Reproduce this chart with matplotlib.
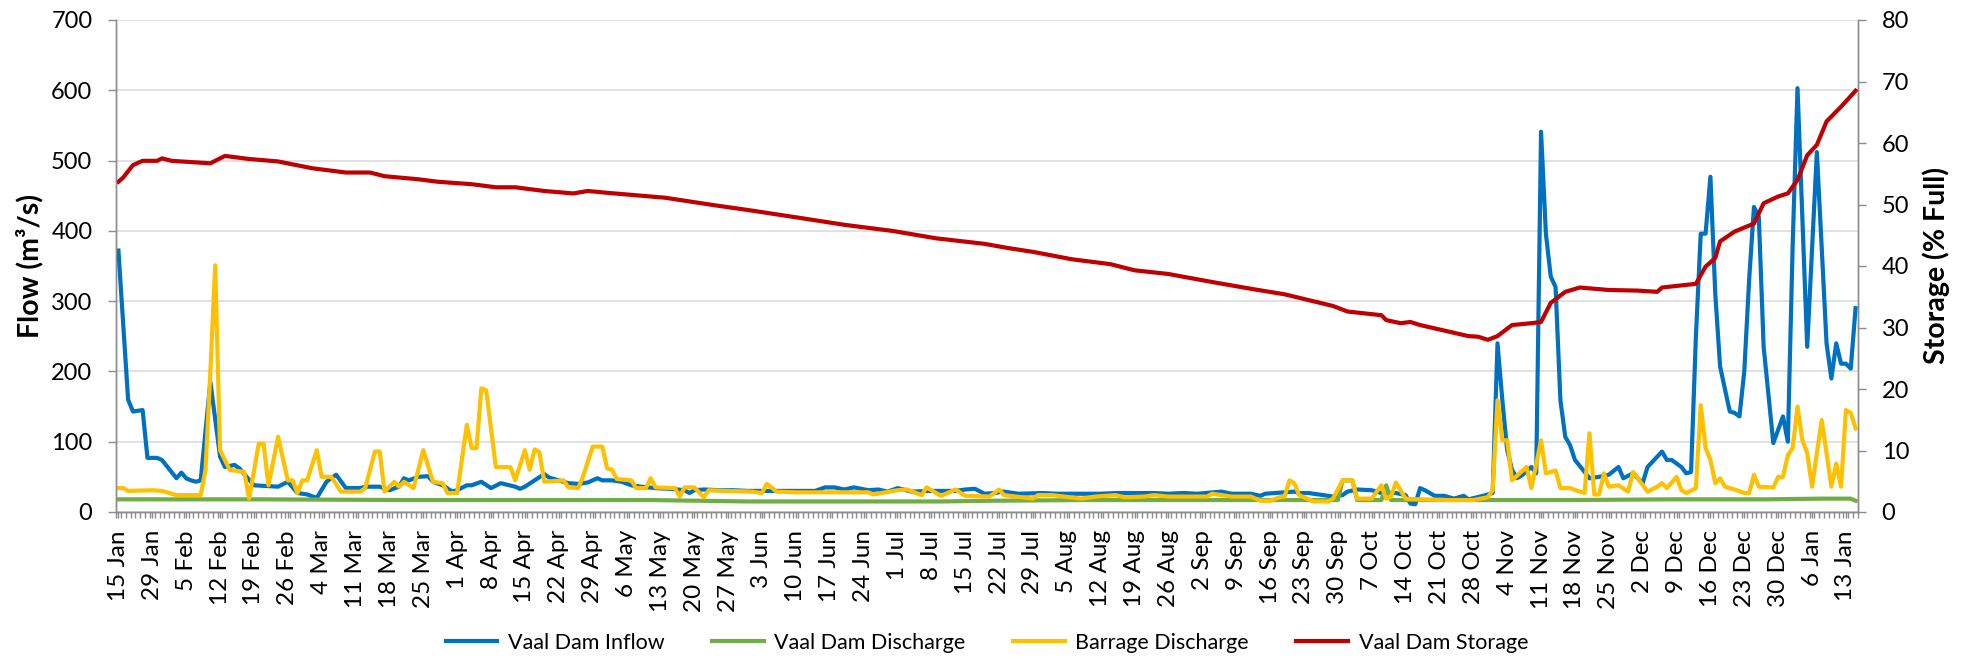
import matplotlib
matplotlib.use("Agg")
import matplotlib.pyplot as plt
from matplotlib.ticker import FixedLocator
from matplotlib.lines import Line2D

plt.rcParams["font.family"] = ["Lato", "DejaVu Sans"]

# ---- data (category index = day position on the axis, 360 days) ----
n_days = 360
date_labels = [
    "15 Jan", "29 Jan", "5 Feb", "12 Feb", "19 Feb", "26 Feb", "4 Mar", "11 Mar",
    "18 Mar", "25 Mar", "1 Apr", "8 Apr", "15 Apr", "22 Apr", "29 Apr", "6 May",
    "13 May", "20 May", "27 May", "3 Jun", "10 Jun", "17 Jun", "24 Jun", "1 Jul",
    "8 Jul", "15 Jul", "22 Jul", "29 Jul", "5 Aug", "12 Aug", "19 Aug", "26 Aug",
    "2 Sep", "9 Sep", "16 Sep", "23 Sep", "30 Sep", "7 Oct", "14 Oct", "21 Oct",
    "28 Oct", "4 Nov", "11 Nov", "18 Nov", "25 Nov", "2 Dec", "9 Dec", "16 Dec",
    "23 Dec", "30 Dec", "6 Jan", "13 Jan",
]
label_pos = [7 * k for k in range(len(date_labels))]

inflow_day = [
    0, 2, 3, 5, 6, 8, 9, 12, 13, 14, 15, 16, 17, 19, 21, 22, 24, 25, 28, 33,
    35, 37, 39, 41, 43, 45, 47, 50, 51, 54, 56, 58, 59, 60, 62, 64, 65, 67, 69, 70,
    72, 73, 75, 77, 79, 82, 83, 84, 86, 88, 89, 91, 93, 95, 97, 99, 100, 102, 104, 106,
    108, 111, 114, 117, 118, 119, 121, 124, 127, 130, 135, 140, 144, 146, 148, 150, 152, 155, 157, 159,
    161, 164, 168, 170, 173, 175, 177, 179, 181, 183, 186, 191, 194, 197, 203, 206, 214, 217, 220, 223,
    228, 230, 234, 236, 237, 243, 244, 246, 251, 253, 254, 256, 259, 261, 264, 266, 267, 268, 269, 270,
    272, 274, 276, 278, 279, 282, 284, 285, 286, 287, 288, 289, 290, 292, 293, 294, 295, 296, 297, 298,
    299, 300, 301, 303, 304, 306, 308, 310, 311, 313, 315, 316, 319, 320, 321, 323, 324, 325, 326, 327,
    328, 329, 330, 331, 333, 334, 335, 336, 337, 338, 339, 340, 342, 344, 345, 346, 347, 349, 351, 353,
    354, 355, 356, 357, 358, 359,
]
inflow = [
    372, 160, 143, 145, 77, 77, 74, 48, 56, 48, 45, 43, 45, 185, 79, 64, 67, 62, 38, 36,
    43, 27, 25, 20, 43, 53, 34, 34, 36, 36, 31, 36, 48, 45, 50, 51, 43, 38, 29, 31,
    38, 38, 43, 34, 41, 36, 33, 36, 45, 54, 49, 45, 41, 40, 42, 48, 45, 45, 43, 38,
    36, 34, 33, 31, 27, 31, 32, 31, 31, 30, 30, 30, 30, 35, 35, 32, 35, 31, 32, 29,
    34, 29, 30, 30, 30, 32, 33, 26, 27, 29, 26, 27, 26, 26, 26, 27, 27, 26, 27, 26,
    29, 26, 26, 23, 26, 29, 27, 27, 22, 24, 29, 32, 31, 27, 27, 24, 12, 11, 34, 31,
    23, 23, 19, 23, 18, 23, 27, 240, 159, 88, 60, 48, 52, 64, 55, 541, 396, 335, 320, 159,
    107, 95, 74, 57, 48, 50, 53, 64, 48, 55, 41, 64, 86, 74, 74, 64, 55, 57, 250, 396,
    396, 477, 311, 207, 143, 141, 136, 200, 330, 434, 420, 235, 98, 136, 100, 380, 603, 235, 512, 240,
    190, 240, 211, 211, 204, 290,
]

barrage_day = [
    0, 1, 2, 7, 9, 12, 17, 18, 19, 20, 21, 23, 26, 27, 29, 30, 31, 33, 35, 36,
    37, 38, 39, 41, 42, 44, 46, 50, 51, 53, 54, 55, 57, 58, 59, 61, 63, 65, 67, 68,
    70, 72, 73, 74, 75, 76, 78, 81, 82, 84, 85, 86, 87, 88, 92, 93, 95, 96, 98, 100,
    101, 102, 103, 106, 107, 109, 110, 111, 115, 116, 117, 119, 121, 122, 126, 131, 133, 134, 136, 140,
    155, 156, 161, 163, 166, 167, 170, 172, 173, 175, 180, 182, 183, 189, 190, 193, 199, 202, 206, 208,
    212, 214, 217, 221, 225, 226, 228, 230, 234, 236, 238, 240, 241, 242, 243, 244, 247, 250, 251, 253,
    255, 256, 259, 261, 262, 263, 264, 266, 269, 275, 280, 283, 284, 285, 286, 287, 288, 291, 292, 294,
    295, 297, 298, 300, 302, 303, 304, 305, 306, 307, 308, 310, 312, 313, 314, 316, 318, 319, 320, 322,
    323, 324, 326, 327, 328, 329, 330, 331, 332, 334, 336, 337, 338, 339, 342, 343, 344, 345, 346, 347,
    348, 349, 350, 352, 354, 355, 356, 357, 358, 359,
]
barrage = [
    34, 34, 30, 31, 30, 24, 24, 60, 200, 351, 88, 60, 57, 19, 97, 97, 38, 107, 45, 45,
    27, 45, 45, 88, 50, 50, 29, 29, 34, 86, 86, 29, 43, 36, 43, 34, 88, 43, 41, 27,
    27, 124, 91, 91, 176, 173, 64, 64, 45, 88, 60, 89, 85, 43, 45, 35, 34, 50, 93, 93,
    62, 60, 47, 45, 34, 34, 48, 35, 34, 22, 35, 35, 21, 31, 30, 29, 27, 40, 29, 28,
    28, 25, 31, 32, 24, 35, 23, 29, 32, 23, 22, 32, 24, 19, 24, 24, 19, 22, 24, 21,
    22, 24, 22, 22, 22, 26, 24, 22, 22, 16, 16, 21, 22, 45, 41, 24, 15, 15, 19, 45,
    45, 19, 19, 38, 19, 22, 42, 19, 18, 17, 17, 21, 31, 159, 102, 102, 45, 64, 34, 102,
    55, 59, 34, 34, 29, 27, 112, 25, 25, 55, 36, 38, 29, 57, 48, 29, 36, 41, 34, 50,
    31, 27, 34, 152, 91, 74, 41, 48, 36, 32, 27, 27, 53, 36, 35, 50, 50, 81, 91, 150,
    102, 84, 36, 131, 36, 69, 36, 145, 141, 119,
]

discharge_day = [0, 30, 60, 90, 110, 130, 150, 170, 180, 200, 230, 240, 252, 253, 255, 256,
                 261, 262, 263, 280, 300, 320, 340, 352, 358, 359]
discharge = [18, 18, 17, 17, 17, 15, 15, 15, 16, 17, 17, 17, 17, 45, 45, 17,
             17, 38, 17, 17, 17, 18, 18, 19, 19, 16]

storage_day = [
    0, 1, 3, 5, 8, 9, 11, 15, 19, 22, 27, 33, 40, 47, 52, 55, 62, 66, 73, 78,
    82, 88, 94, 97, 101, 113, 123, 131, 141, 150, 160, 169, 179, 184, 189, 197, 205, 210, 217, 226,
    234, 241, 251, 254, 261, 262, 265, 267, 269, 274, 279, 281, 283, 285, 288, 292, 294, 296, 299, 302,
    308, 314, 318, 319, 326, 328, 330, 331, 334, 338, 340, 343, 345, 347, 349, 351, 353, 356, 359,
]
storage = [
    53.7, 54.4, 56.4, 57.1, 57.1, 57.5, 57.1, 56.9, 56.7, 57.9, 57.4, 57.0, 55.9, 55.2, 55.2, 54.6, 54.1, 53.7, 53.3, 52.8,
    52.8, 52.2, 51.8, 52.2, 51.9, 51.1, 49.9, 49.0, 47.8, 46.7, 45.7, 44.5, 43.6, 42.9, 42.3, 41.1, 40.3, 39.3, 38.7, 37.4,
    36.3, 35.4, 33.5, 32.6, 32.0, 31.2, 30.7, 30.9, 30.4, 29.5, 28.6, 28.5, 28.0, 28.6, 30.4, 30.7, 30.9, 34.0, 35.8, 36.5,
    36.1, 36.0, 35.8, 36.5, 37.1, 39.9, 41.3, 44.0, 45.6, 46.9, 50.2, 51.3, 51.8, 54.0, 58.0, 59.7, 63.5, 65.9, 68.5,
]

# ---- figure ----
W, H = 1970, 657
fig = plt.figure(figsize=(W / 100, H / 100), dpi=100)
ax = fig.add_axes([116 / W, 1 - 512 / H, 1742 / W, 492 / H])
ax2 = ax.twinx()

c_in, c_dis, c_bar, c_sto = "#0070C0", "#70AD47", "#FFC000", "#C00000"
lw = 3.0
grey = "#8C8C8C"

ax.plot(inflow_day, inflow, color=c_in, lw=lw, solid_joinstyle="round", zorder=3)
ax.plot(discharge_day, discharge, color=c_dis, lw=lw, solid_joinstyle="round", zorder=3)
ax.plot(barrage_day, barrage, color=c_bar, lw=lw, solid_joinstyle="round", zorder=3)
ax2.plot(storage_day, storage, color=c_sto, lw=lw, solid_joinstyle="round")

ax.set_xlim(-0.5, n_days - 0.5)
ax.set_ylim(0, 700)
ax2.set_ylim(0, 80)
ax.set_yticks(range(0, 701, 100))
ax2.set_yticks(range(0, 81, 10))

ax.grid(axis="y", color="#D9D9D9", lw=1.1, zorder=0)
ax.set_axisbelow(True)

for a in (ax, ax2):
    a.spines["top"].set_visible(False)
    for s in ("left", "right", "bottom"):
        a.spines[s].set_color(grey)
        a.spines[s].set_linewidth(1.0)

ax.set_xticks(label_pos)
ax.set_xticklabels(date_labels, rotation=90, va="top", ha="center")
ax.xaxis.set_minor_locator(FixedLocator([i - 0.5 for i in range(n_days + 1)]))
ax.tick_params(axis="x", which="both", length=4, color=grey, width=1.0,
               labelsize=17.5, pad=9)
ax.tick_params(axis="y", length=6, color=grey, width=1.0, labelsize=17, pad=11)
ax2.tick_params(axis="y", length=6, color=grey, width=1.0, labelsize=17, pad=11)

fig.text(30 / W, 1 - 266 / H, "Flow (m³/s)", rotation=90, ha="center", va="center",
         fontsize=20.5, fontweight="bold")
fig.text(1936 / W, 1 - 266 / H, "Storage (% Full)", rotation=90, ha="center", va="center",
         fontsize=20.5, fontweight="bold")

handles = [
    Line2D([], [], color=c_in, lw=lw),
    Line2D([], [], color=c_dis, lw=lw),
    Line2D([], [], color=c_bar, lw=lw),
    Line2D([], [], color=c_sto, lw=lw),
]
names = ["Vaal Dam Inflow", "Vaal Dam Discharge", "Barrage Discharge", "Vaal Dam Storage"]
fig.legend(handles, names, loc="center", bbox_to_anchor=(987 / W, 1 - 643 / H), ncol=4,
           frameon=False, fontsize=15.5, handlelength=2.4, handletextpad=0.5,
           columnspacing=2.2)

fig.savefig("out.png", dpi=100)
